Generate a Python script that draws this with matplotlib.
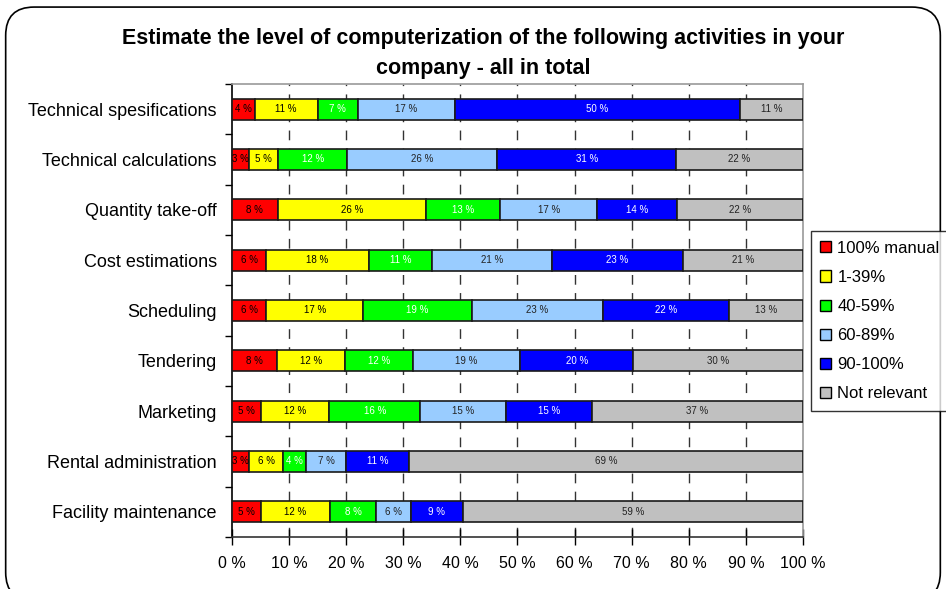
import matplotlib

matplotlib.use("Agg")
import matplotlib.pyplot as plt
import numpy as np
from matplotlib.patches import FancyBboxPatch, Patch
from matplotlib.ticker import FixedLocator

plt.rcParams["font.family"] = ["Liberation Sans", "DejaVu Sans"]

activities = [
    "Technical spesifications",
    "Technical calculations",
    "Quantity take-off",
    "Cost estimations",
    "Scheduling",
    "Tendering",
    "Marketing",
    "Rental administration",
    "Facility maintenance",
]
levels = ["100% manual", "1-39%", "40-59%", "60-89%", "90-100%", "Not relevant"]

manual = [4, 3, 8, 6, 6, 8, 5, 3, 5]
low = [11, 5, 26, 18, 17, 12, 12, 6, 12]
mid = [7, 12, 13, 11, 19, 12, 16, 4, 8]
high = [17, 26, 17, 21, 23, 19, 15, 7, 6]
full = [50, 31, 14, 23, 22, 20, 15, 11, 9]
not_relevant = [11, 22, 22, 21, 13, 30, 37, 69, 59]

colors = ["#ff0000", "#ffff00", "#00ff00", "#99ccff", "#0000ff", "#c0c0c0"]
text_colors = ["black", "black", "white", "#222222", "white", "#222222"]

series = [manual, low, mid, high, full, not_relevant]
data = np.array(series, dtype=float)
shares = data / data.sum(axis=0) * 100

fig = plt.figure(figsize=(9.46, 5.89), dpi=100)
ax = fig.add_axes([0.2452, 0.0883, 0.6036, 0.7691])

y = np.arange(len(activities))
left = np.zeros(len(activities))
for k in range(len(levels)):
    ax.barh(y, shares[k], left=left, height=0.42, color=colors[k],
            edgecolor="#1a1a1a", linewidth=1.2, label=levels[k], zorder=3)
    for i in range(len(activities)):
        ax.text(left[i] + shares[k][i] / 2, y[i], f"{series[k][i]} %",
                ha="center", va="center", fontsize=7,
                color=text_colors[k], zorder=4)
    left += shares[k]

ax.set_xlim(0, 100)
ax.set_ylim(len(activities) - 0.5, -0.5)
ax.set_xticks(np.arange(0, 101, 10))
ax.set_xticklabels([f"{v} %" for v in range(0, 101, 10)], fontsize=11.5)
ax.set_yticks(y)
ax.set_yticklabels(activities, fontsize=13)
ax.tick_params(axis="y", which="major", length=0, pad=11)
ax.yaxis.set_minor_locator(FixedLocator(np.arange(-0.5, len(activities), 1)))
ax.tick_params(axis="y", which="minor", length=5, direction="out", width=1)
ax.tick_params(axis="x", direction="inout", length=12, width=1, pad=8)

for x in range(10, 100, 10):
    ax.axvline(x, color="#333333", linewidth=1, linestyle=(0, (7, 6)), zorder=1)

ax.spines["left"].set_color("black")
ax.spines["bottom"].set_color("#333333")
ax.spines["top"].set_color("#999999")
ax.spines["right"].set_color("#999999")
for s in ax.spines.values():
    s.set_linewidth(1.2)

fig.text(0.511, 0.935, "Estimate the level of computerization of the following activities in your",
         ha="center", va="center", fontsize=15.5, fontweight="bold")
fig.text(0.511, 0.884, "company - all in total",
         ha="center", va="center", fontsize=15.5, fontweight="bold")

handles = [Patch(facecolor=c, edgecolor="black", linewidth=1) for c in colors]
leg = fig.legend(handles, levels, loc="upper left", bbox_to_anchor=(0.857, 0.607),
                 fontsize=12, frameon=True, fancybox=False, handlelength=0.65,
                 handleheight=0.65, handletextpad=0.4, labelspacing=0.85,
                 borderpad=0.55, borderaxespad=0)
leg.get_frame().set_edgecolor("black")
leg.get_frame().set_linewidth(1)

frame = FancyBboxPatch((0.006, -0.02), 0.988, 1.008,
                       boxstyle="round,pad=0,rounding_size=0.03",
                       transform=fig.transFigure, facecolor="none",
                       edgecolor="black", linewidth=1.2, mutation_aspect=946 / 589)
fig.patches.append(frame)

fig.savefig("out.png", dpi=100)
